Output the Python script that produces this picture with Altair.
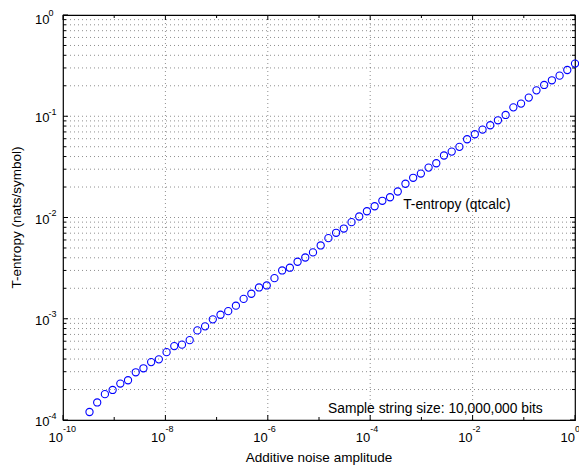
import altair as alt
import pandas as pd

FONT = "Liberation Sans"

noise_amp = [
    3.293e-10, 4.657e-10, 6.585e-10, 9.313e-10, 1.317e-9, 1.863e-9, 2.634e-9, 3.725e-9,
    5.268e-9, 7.451e-9, 1.054e-8, 1.490e-8, 2.107e-8, 2.980e-8, 4.215e-8, 5.960e-8,
    8.429e-8, 1.192e-7, 1.686e-7, 2.384e-7, 3.372e-7, 4.768e-7, 6.744e-7, 9.537e-7,
    1.349e-6, 1.907e-6, 2.697e-6, 3.815e-6, 5.394e-6, 7.629e-6, 1.079e-5, 1.526e-5,
    2.158e-5, 3.052e-5, 4.316e-5, 6.104e-5, 8.631e-5, 1.221e-4, 1.726e-4, 2.441e-4,
    3.453e-4, 4.883e-4, 6.905e-4, 9.766e-4, 1.381e-3, 1.953e-3, 2.762e-3, 3.906e-3,
    5.524e-3, 7.813e-3, 1.105e-2, 1.563e-2, 2.210e-2, 3.125e-2, 4.419e-2, 6.250e-2,
    8.839e-2, 0.1250, 0.1768, 0.2500, 0.3536, 0.5000, 0.7071, 1.0000,
]
t_entropy = [
    1.20e-4, 1.49e-4, 1.80e-4, 1.98e-4, 2.29e-4, 2.47e-4, 2.96e-4, 3.24e-4,
    3.73e-4, 3.97e-4, 4.68e-4, 5.37e-4, 5.55e-4, 6.15e-4, 7.67e-4, 8.41e-4,
    9.86e-4, 1.096e-3, 1.189e-3, 1.346e-3, 1.570e-3, 1.766e-3, 2.037e-3, 2.133e-3,
    2.518e-3, 2.999e-3, 3.192e-3, 3.656e-3, 4.027e-3, 4.519e-3, 5.297e-3, 6.252e-3,
    7.063e-3, 7.780e-3, 8.995e-3, 1.023e-2, 1.153e-2, 1.291e-2, 1.462e-2, 1.585e-2,
    1.807e-2, 2.153e-2, 2.466e-2, 2.716e-2, 3.112e-2, 3.436e-2, 4.093e-2, 4.477e-2,
    4.989e-2, 5.929e-2, 6.637e-2, 7.379e-2, 8.147e-2, 9.120e-2, 0.1030, 0.1225,
    0.1334, 0.1528, 0.1803, 0.2037, 0.2265, 0.2518, 0.2864, 0.3311,
]

# Axis ranges, ticks and labels
x_domain = [1e-10, 1]
y_domain = [1e-4, 1]
x_label_vals = [1e-10, 1e-8, 1e-6, 1e-4, 1e-2, 1]
x_label_exp = ["-10", "-8", "-6", "-4", "-2", "0"]
x_minor_vals = [1e-9, 1e-7, 1e-5, 1e-3, 1e-1]
x_grid_vals = [1e-8, 1e-6, 1e-4, 1e-2]
y_label_vals = [1e-4, 1e-3, 1e-2, 1e-1, 1]
y_label_exp = ["-4", "-3", "-2", "-1", "0"]
y_minor_mult = [2, 3, 4, 5, 6, 7, 8, 9]
y_decades = [1e-4, 1e-3, 1e-2, 1e-1]
y_minor_vals = [m * d for d in y_decades for m in y_minor_mult]
y_grid_vals = sorted(y_minor_vals + [1e-3, 1e-2, 1e-1])

ann_x = [4.4e-4, 1.5e-5]
ann_y = [1.34e-2, 1.28e-4]
ann_text = ["T-entropy (qtcalc)", "Sample string size: 10,000,000 bits"]

x_title = "Additive noise amplitude"
y_title = "T-entropy (nats/symbol)"

xs = alt.Scale(type="log", domain=x_domain, nice=False)
ys = alt.Scale(type="log", domain=y_domain, nice=False)

xmin, xmax = x_domain
ymin, ymax = y_domain

df = pd.DataFrame({"x": noise_amp, "y": t_entropy})
df_xl = pd.DataFrame({"v": x_label_vals, "e": x_label_exp, "lo": ymin, "hi": ymax})
df_xm = pd.DataFrame({"v": x_minor_vals, "lo": ymin, "hi": ymax})
df_xg = pd.DataFrame({"v": x_grid_vals})
df_yl = pd.DataFrame({"v": y_label_vals, "e": y_label_exp, "lo": xmin, "hi": xmax})
df_ym = pd.DataFrame({"v": y_minor_vals, "lo": xmin, "hi": xmax})
df_yg = pd.DataFrame({"v": y_grid_vals})
df_ann = pd.DataFrame({"x": ann_x, "y": ann_y, "t": ann_text})
df_xt = pd.DataFrame({"t": [x_title], "x": [1e-5], "y": [ymin]})
df_yt = pd.DataFrame({"t": [y_title], "x": [xmin], "y": [1e-2]})


def X(f):
    return alt.X(f, type="quantitative", scale=xs, axis=None)


def Y(f):
    return alt.Y(f, type="quantitative", scale=ys, axis=None)


grid_style = dict(color="#333333", strokeDash=[1, 3], strokeWidth=1, opacity=0.55)

hgrid = alt.Chart(df_yg).mark_rule(**grid_style).encode(y=Y("v"))
vgrid = alt.Chart(df_xg).mark_rule(**grid_style).encode(x=X("v"))

tick_style = dict(color="black", strokeWidth=1)
# y ticks (major 5px, minor 3px), left and right
yl_major_l = alt.Chart(df_yl).mark_rule(x2Offset=5, **tick_style).encode(
    x=X("lo"), x2="lo:Q", y=Y("v"))
yl_major_r = alt.Chart(df_yl).mark_rule(xOffset=-5, **tick_style).encode(
    x=X("hi"), x2="hi:Q", y=Y("v"))
ym_l = alt.Chart(df_ym).mark_rule(x2Offset=3, **tick_style).encode(
    x=X("lo"), x2="lo:Q", y=Y("v"))
ym_r = alt.Chart(df_ym).mark_rule(xOffset=-3, **tick_style).encode(
    x=X("hi"), x2="hi:Q", y=Y("v"))
# x ticks bottom and top
xl_b = alt.Chart(df_xl).mark_rule(y2Offset=-5, **tick_style).encode(
    y=Y("lo"), y2="lo:Q", x=X("v"))
xl_t = alt.Chart(df_xl).mark_rule(y2Offset=5, **tick_style).encode(
    y=Y("hi"), y2="hi:Q", x=X("v"))
xm_b = alt.Chart(df_xm).mark_rule(y2Offset=-3, **tick_style).encode(
    y=Y("lo"), y2="lo:Q", x=X("v"))
xm_t = alt.Chart(df_xm).mark_rule(y2Offset=3, **tick_style).encode(
    y=Y("hi"), y2="hi:Q", x=X("v"))

points = alt.Chart(df).mark_point(
    shape="circle", filled=False, color="#0000ff", size=52, strokeWidth=1.1, opacity=1
).encode(x=X("x"), y=Y("y"))

# tick labels: "10" with a raised exponent
xlab_base = alt.Chart(df_xl).mark_text(
    text="10", align="right", baseline="alphabetic", fontSize=13, font=FONT,
    yOffset=21.5, color="black").encode(x=X("v"), y=Y("lo"))
xlab_exp = alt.Chart(df_xl).mark_text(
    align="left", baseline="alphabetic", fontSize=9, font=FONT,
    yOffset=11.5, color="black").encode(x=X("v"), y=Y("lo"), text="e:N")

top_row = alt.datum.v >= ymax
inner_rows = alt.datum.v < ymax
ylab_base = alt.Chart(df_yl).mark_text(
    text="10", align="left", baseline="alphabetic", fontSize=13, font=FONT,
    xOffset=-28, yOffset=6, color="black").encode(
    x=X("lo"), y=Y("v")).transform_filter(inner_rows)
ylab_exp = alt.Chart(df_yl).mark_text(
    align="left", baseline="alphabetic", fontSize=9, font=FONT,
    xOffset=-14.5, yOffset=-1.5, color="black").encode(
    x=X("lo"), y=Y("v"), text="e:N").transform_filter(inner_rows)
ylab_base_top = alt.Chart(df_yl).mark_text(
    text="10", align="left", baseline="alphabetic", fontSize=13, font=FONT,
    xOffset=-28, yOffset=9, color="black").encode(
    x=X("lo"), y=Y("v")).transform_filter(top_row)
ylab_exp_top = alt.Chart(df_yl).mark_text(
    align="left", baseline="alphabetic", fontSize=9, font=FONT,
    xOffset=-14.5, yOffset=0.5, color="black").encode(
    x=X("lo"), y=Y("v"), text="e:N").transform_filter(top_row)

# axis titles
xtitle = alt.Chart(df_xt).mark_text(
    align="center", baseline="alphabetic", fontSize=13.5, font=FONT,
    yOffset=41.5, color="black").encode(x=X("x"), y=Y("y"), text="t:N")
ytitle = alt.Chart(df_yt).mark_text(
    align="center", baseline="alphabetic", fontSize=13.5, font=FONT, angle=270,
    xOffset=-42, color="black").encode(x=X("x"), y=Y("y"), text="t:N")

ann = alt.Chart(df_ann).mark_text(
    align="left", baseline="middle", fontSize=13.8, font=FONT, color="black"
).encode(x=X("x"), y=Y("y"), text="t:N")

chart = alt.layer(
    hgrid, vgrid, yl_major_l, yl_major_r, ym_l, ym_r, xl_b, xl_t, xm_b, xm_t,
    points, xlab_base, xlab_exp, ylab_base, ylab_exp, ylab_base_top, ylab_exp_top,
    xtitle, ytitle, ann
).properties(
    width=512, height=405,
    padding={"left": 55, "top": 7, "right": 4, "bottom": 48},
    autosize=alt.AutoSizeParams(type="none"),
    background="white",
).configure_view(stroke="black", strokeWidth=1.2)

chart.save("out.html", embed_options={"renderer": "svg", "actions": False})
